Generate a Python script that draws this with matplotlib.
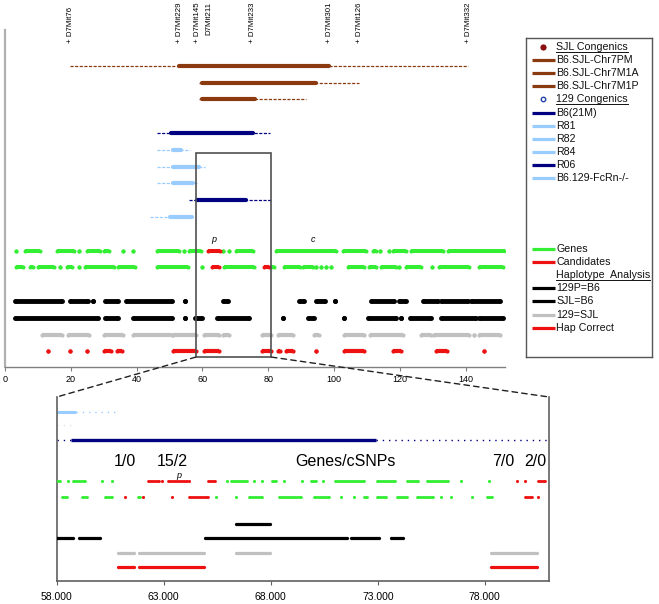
import matplotlib
matplotlib.use('Agg')
import matplotlib.pyplot as plt
from matplotlib.patches import Rectangle, ConnectionPatch
from matplotlib.lines import Line2D

plt.rcParams['font.family'] = ['Liberation Sans', 'DejaVu Sans']

# ---------------- data ----------------
marker_names = ['D7Mit76', 'D7Mit229', 'D7Mit145', 'D7Mit233', 'D7Mit301', 'D7Mit126', 'D7Mit332']
marker_pos = [19.8, 53.0, 58.5, 75.3, 98.5, 107.9, 140.9]
marker2_name = 'D7Mit211'
marker2_pos = 61.9

congenic_names = ['B6.SJL-Chr7PM', 'B6.SJL-Chr7M1A', 'B6.SJL-Chr7M1P',
                  'B6(21M)', 'R81', 'R82', 'R84', 'R06', 'B6.129-FcRn-/-']
congenic_dashed = [(19.8, 140.9), (59.1, 107.6), (59.1, 91.5),
                   (46.3, 80.5), (46.3, 56.1), (46.3, 60.7), (46.3, 58.5), (55.8, 81.1), (44.2, 50.3)]
congenic_solid = [(53.0, 98.5), (59.8, 94.5), (59.8, 75.9),
                  (50.6, 75.3), (51.2, 53.4), (51.2, 59.1), (51.2, 57.3), (58.5, 73.2), (50.3, 56.7)]

genes1_green = [(3.4, 3.4), (6.1, 10.7), (15.9, 21.0), (22.6, 22.6), (25.0, 29.0), (30.0, 31.7),
                (36.0, 36.0), (39.0, 39.0), (46.3, 53.0), (54.3, 54.3), (56.0, 59.5), (66.2, 66.2),
                (68.0, 68.0), (70.1, 75.3), (82.3, 100.5), (102.7, 109.8), (111.9, 112.8), (114.0, 114.0),
                (116.8, 116.8), (118.0, 122.0), (123.5, 133.2), (134.8, 152.2)]
genes1_red = [(61.6, 65.5)]
genes2_green = [(3.4, 5.5), (7.6, 8.5), (10.0, 15.0), (16.8, 16.8), (18.9, 20.4), (22.6, 22.6),
                (24.4, 33.0), (34.5, 39.6), (46.3, 55.5), (60.0, 60.0), (66.5, 75.6), (80.8, 81.7),
                (84.8, 89.6), (90.6, 93.5), (94.6, 94.6), (96.0, 96.0), (97.6, 97.6), (99.0, 99.0),
                (104.3, 109.1), (110.7, 112.8), (114.3, 118.9), (119.8, 119.8), (122.0, 126.5),
                (129.9, 129.9), (132.0, 141.2), (144.2, 151.5)]
genes2_red = [(62.8, 65.0), (78.7, 80.2)]

hap_129p_b6 = [(3.0, 17.4), (19.8, 25.3), (26.8, 26.8), (30.5, 34.5), (36.9, 50.9), (54.6, 54.6),
               (66.2, 67.7), (89.3, 90.9), (94.5, 97.3), (100.3, 100.3), (111.3, 118.3), (119.8, 122.0),
               (127.1, 131.7), (132.6, 140.9), (141.8, 150.6)]
hap_sjl_b6 = [(3.0, 28.4), (30.5, 34.5), (38.9, 50.9), (54.6, 54.6), (57.9, 60.0), (64.6, 74.1),
              (84.5, 84.5), (92.0, 94.0), (103.0, 103.0), (110.4, 118.9), (120.4, 120.4),
              (123.2, 129.6), (132.6, 143.3), (144.2, 151.5)]
hap_129_sjl = [(11.3, 17.4), (19.2, 25.6), (30.0, 36.0), (39.0, 50.9), (51.2, 58.0), (60.4, 65.0),
               (66.2, 68.0), (78.0, 80.8), (82.9, 87.5), (93.9, 95.4), (103.0, 109.1), (111.0, 121.0),
               (126.5, 129.6), (130.5, 141.2), (142.7, 142.7), (144.2, 150.6)]
hap_correct = [(13.1, 13.1), (19.8, 19.8), (25.0, 25.0), (30.0, 32.3), (34.1, 35.7), (51.2, 58.0),
               (60.4, 65.0), (78.0, 80.8), (82.9, 83.5), (85.4, 87.5), (94.5, 94.5), (103.0, 109.1),
               (118.0, 120.4), (131.0, 134.5), (145.7, 145.7)]

main_ticks = [0, 20, 40, 60, 80, 100, 120, 140]
zoom_range = (58.0, 81.0)

# zoomed panel data
z_lb_solid = (58.0, 58.9)
z_lb_dotted = (58.9, 60.85)
z_faint_dotted = (58.0, 58.85)
z_navy_dotted = [(58.0, 58.65), (72.9, 81.0)]
z_navy_solid = (58.65, 72.9)
z_labels = ['1/0', '15/2', 'Genes/cSNPs', '7/0', '2/0']
z_label_pos = [61.2, 63.4, 71.5, 78.85, 80.35]
z_genes1_green = [(58.0, 58.15), (58.54, 58.54), (58.76, 59.3), (60.1, 60.1), (60.6, 60.6),
                  (65.97, 65.97), (66.15, 66.9), (67.2, 67.2), (67.6, 67.6), (68.06, 68.25),
                  (68.6, 68.6), (69.45, 69.45), (69.9, 70.1), (70.45, 70.45), (71.0, 72.35),
                  (72.95, 73.8), (74.35, 74.9), (75.3, 76.3), (76.9, 76.9), (78.2, 78.2)]
z_genes1_red = [(62.25, 62.8), (62.9, 62.9), (63.2, 64.1), (64.2, 64.2), (65.05, 65.4),
                (79.5, 79.5), (79.9, 79.9), (80.5, 80.8)]
z_genes2_green = [(58.25, 58.5), (59.2, 59.4), (60.25, 60.6), (61.8, 61.9), (65.45, 65.45),
                  (66.4, 66.4), (67.0, 67.6), (68.4, 69.4), (70.0, 70.7), (71.3, 71.3), (71.9, 71.9),
                  (72.35, 72.5), (72.95, 73.4), (73.9, 74.35), (74.85, 75.6), (75.97, 75.97),
                  (76.4, 76.4), (77.4, 77.4), (78.1, 78.35)]
z_genes2_red = [(61.2, 61.2), (62.05, 62.05), (63.4, 63.4), (64.2, 65.05), (79.9, 80.2), (80.5, 80.5)]
z_hap_129p_b6 = [(66.4, 67.95)]
z_hap_sjl_b6 = [(58.0, 58.77), (59.04, 60.0), (64.93, 71.56), (71.73, 73.05), (73.6, 74.17)]
z_hap_129_sjl = [(60.85, 61.6), (61.83, 64.9), (66.4, 67.95), (78.3, 80.45)]
z_hap_correct = [(60.88, 61.6), (61.83, 64.9), (78.3, 80.45)]
z_ticks = [58, 63, 68, 73, 78]

legend_labels = ['SJL Congenics', 'B6.SJL-Chr7PM', 'B6.SJL-Chr7M1A', 'B6.SJL-Chr7M1P',
                 '129 Congenics', 'B6(21M)', 'R81', 'R82', 'R84', 'R06', 'B6.129-FcRn-/-',
                 'Genes', 'Candidates', 'Haplotype  Analysis', '129P=B6', 'SJL=B6', '129=SJL', 'Hap Correct']

# ---------------- style ----------------
BROWN = '#8b3a10'
DKRED = '#8b1010'
NAVY = '#000080'
LBLUE = '#99ccff'
GREEN = '#33ee33'
RED = '#ee1111'
GREY = '#c0c0c0'
BLACK = '#000000'
congenic_colors = [BROWN, BROWN, BROWN, NAVY, LBLUE, LBLUE, LBLUE, NAVY, LBLUE]
congenic_rows = [0, 1, 2, 4, 5, 6, 7, 8, 9]

W, H = 659, 604
fig = plt.figure(figsize=(W / 100, H / 100), dpi=100)


def fx(px):
    return px / W


def fy(py):
    return 1 - py / H


def segs(a, seglist, y, color, size, z=3):
    for s, e in seglist:
        a.plot([s, e], [y, y], color=color, lw=size, marker='o', ms=size, mew=0,
               solid_capstyle='butt', zorder=z)


# ---------------- main axes ----------------
ax = fig.add_axes([fx(5), fy(367), fx(500), (367 - 30) / H])
ax.set_xlim(0, 152)
ax.set_ylim(17.93, -2.125)
for sp in ['top', 'right']:
    ax.spines[sp].set_visible(False)
ax.spines['left'].set_color('#b0b0b0')
ax.spines['left'].set_linewidth(1.6)
ax.spines['bottom'].set_color('#808080')
ax.spines['bottom'].set_linewidth(1.0)
ax.set_yticks([])
ax.set_xticks(main_ticks)
ax.tick_params(axis='x', labelsize=6.5, length=3, width=0.8, color='#808080', pad=3)

for name, pos in zip(marker_names, marker_pos):
    ax.text(pos, -1.35, '+ ' + name, rotation=90, ha='center', va='bottom', fontsize=5.7,
            clip_on=False)
ax.text(marker2_pos, -1.83, marker2_name, rotation=90, ha='center', va='bottom', fontsize=5.7,
        clip_on=False)

for (ds, de), (ss, se), col, k in zip(congenic_dashed, congenic_solid, congenic_colors, congenic_rows):
    ax.plot([ds, de], [k, k], color=col, lw=0.9, dashes=(2.5, 1.2), zorder=2)
    ax.plot([ss, se], [k, k], color=col, lw=3.0, solid_capstyle='round', zorder=3)

ax.text(63.4, 10.37, 'p', style='italic', fontsize=6.5, ha='center', va='center')
ax.text(93.6, 10.37, 'c', style='italic', fontsize=6.5, ha='center', va='center')

segs(ax, genes1_green, 11, GREEN, 2.9)
segs(ax, genes1_red, 11, RED, 2.9, z=4)
segs(ax, genes2_green, 12, GREEN, 2.9)
segs(ax, genes2_red, 12, RED, 2.9, z=4)
segs(ax, hap_129p_b6, 14, BLACK, 3.5)
segs(ax, hap_sjl_b6, 15, BLACK, 3.5)
segs(ax, hap_129_sjl, 16, GREY, 3.0)
segs(ax, hap_correct, 17, RED, 3.0)

box_top, box_bot = 5.2, 17.34
ax.add_patch(Rectangle((zoom_range[0], box_top), zoom_range[1] - zoom_range[0], box_bot - box_top,
                       fill=False, edgecolor='#505050', lw=1.2, zorder=5))

# ---------------- zoom axes ----------------
ax2 = fig.add_axes([fx(56.7), fy(581), fx(549 - 56.7), (581 - 397) / H])
ax2.set_xlim(*zoom_range)
ax2.set_ylim(581, 397)
ax2.spines['top'].set_visible(False)
for sp in ['left', 'right', 'bottom']:
    ax2.spines[sp].set_color('#606060')
    ax2.spines[sp].set_linewidth(1.2)
ax2.set_yticks([])
ax2.set_xticks(z_ticks)
ax2.set_xticklabels(['%.3f' % t for t in z_ticks])
ax2.tick_params(axis='x', labelsize=7.5, length=3, width=0.8, color='#606060', pad=5)

ax2.plot(z_lb_solid, [412, 412], color=LBLUE, lw=2.2, solid_capstyle='butt')
ax2.plot(z_lb_dotted, [412, 412], color=LBLUE, lw=1.0, dashes=(1, 3.5))
ax2.plot(z_faint_dotted, [425, 425], color='#dde6f0', lw=1.0, dashes=(1, 3.5))
for s, e in z_navy_dotted:
    ax2.plot([s, e], [440, 440], color=NAVY, lw=1.0, dashes=(1, 3.5))
ax2.plot(z_navy_solid, [440, 440], color=NAVY, lw=2.4, solid_capstyle='butt')

for lab, pos in zip(z_labels, z_label_pos):
    ax2.text(pos, 462, lab, fontsize=11.5, ha='center', va='center')
ax2.text(63.7, 475, 'p', style='italic', fontsize=6.5, ha='center', va='center')

segs(ax2, z_genes1_green, 481, GREEN, 2.0)
segs(ax2, z_genes1_red, 481, RED, 2.0, z=4)
segs(ax2, z_genes2_green, 497, GREEN, 2.0)
segs(ax2, z_genes2_red, 497, RED, 2.0, z=4)
segs(ax2, z_hap_129p_b6, 524, BLACK, 2.3)
segs(ax2, z_hap_sjl_b6, 538, BLACK, 2.3)
segs(ax2, z_hap_129_sjl, 553, GREY, 2.3)
segs(ax2, z_hap_correct, 567, RED, 2.3)

# connectors
for xa, xb in [(zoom_range[0], 0), (zoom_range[1], 1)]:
    con = ConnectionPatch(xyA=(xa, box_bot), coordsA=ax.transData,
                          xyB=(xb, 1), coordsB=ax2.transAxes,
                          color='#202020', lw=1.0, linestyle=(0, (4, 3)))
    fig.add_artist(con)

# ---------------- legend ----------------
lg = fig.add_axes([fx(526), fy(357), fx(652 - 526), (357 - 38) / H])
lg.set_xlim(526, 652)
lg.set_ylim(357, 38)
lg.set_xticks([])
lg.set_yticks([])
for sp in lg.spines.values():
    sp.set_color('#555555')
    sp.set_linewidth(1.0)

legend_y = [47, 60, 73, 86, 99, 113, 126, 139, 152, 165, 178, 249, 262, 275, 288, 301, 315, 328]
legend_kind = ['mfill', 'line', 'line', 'line', 'mopen', 'line', 'line', 'line', 'line', 'line', 'line',
               'line', 'line', 'head', 'line', 'line', 'line', 'line']
legend_colors = [DKRED, BROWN, BROWN, BROWN, '#2244aa', NAVY, LBLUE, LBLUE, LBLUE, NAVY, LBLUE,
                 GREEN, RED, None, BLACK, BLACK, GREY, RED]

heads = []
for lab, y, kind, col in zip(legend_labels, legend_y, legend_kind, legend_colors):
    if kind == 'line':
        lg.plot([532, 555], [y, y], color=col, lw=2.3, solid_capstyle='butt')
    elif kind == 'mfill':
        lg.plot([542.5], [y], 'o', color=col, ms=4.5, mew=0)
    elif kind == 'mopen':
        lg.plot([542.5], [y], 'o', mfc='none', mec=col, ms=3.2, mew=1.0)
    t = lg.text(556, y, lab, fontsize=7.7, ha='left', va='center', color='#111111')
    if kind != 'line':
        heads.append((t, y))

fig.canvas.draw()
r = fig.canvas.get_renderer()
for t, y in heads:
    bb = t.get_window_extent(renderer=r)
    x0 = bb.x0 / W
    x1 = bb.x1 / W
    yl = bb.y0 / H + 0.5 / H
    fig.add_artist(Line2D([x0, x1], [yl, yl], color='#111111', lw=0.7))

fig.savefig('out.png', dpi=100)
